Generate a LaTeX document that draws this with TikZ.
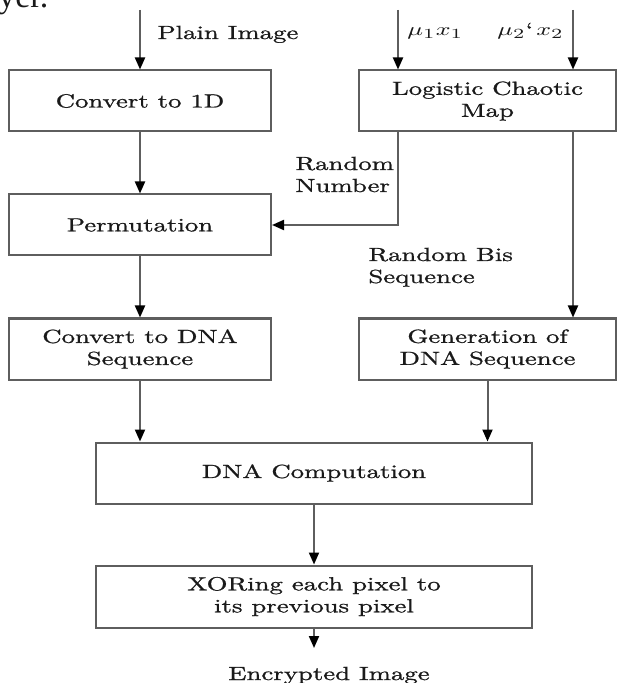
\documentclass[tikz,border=0pt]{standalone}
\usepackage{fontspec}
\setmainfont{lmroman10-regular}[Extension=.otf,FakeStretch=1.41,FakeBold=1]
\newfontfamily\pagefont{Liberation Serif}
\usepackage{graphicx}
\usepackage{xcolor}
\definecolor{cLine}{HTML}{5E5E5E}
\definecolor{cText}{HTML}{1A1A1A}
\usepackage{tikz}
\usetikzlibrary{positioning,arrows.meta}
\newcommand{\wmath}[1]{\scalebox{1.41}[1]{$#1$}}
\tikzset{
  node-box/.style={draw=cLine,line width=1pt,minimum width=131pt,
    minimum height=30.5pt,align=center,inner sep=0pt,text=cText},
  node-lbl/.style={text=cText,inner sep=0pt,align=left},
  arrow/.style={-{Triangle[length=6pt,width=5pt,color=black]},
    line width=1pt,draw=cLine},
}
\begin{document}
\begin{tikzpicture}[x=0.5pt,y=-0.5pt,node distance=30.5pt and 43pt,
    font=\fontsize{9.5}{11}\selectfont]
  \useasboundingbox (0,0) rectangle (616,683);
  \node[node-lbl,anchor=base west,font=\pagefont\fontsize{17}{20}\selectfont]
    (pagetxt) at (-2,8) {yer.};
  % left column
  \node[node-box] (conv1d) at (140,101) {Convert to 1D};
  \node[node-box,below=of conv1d] (perm) {Permutation};
  \node[node-box,below=of perm] (convdna) {Convert to DNA\\Sequence};
  % right column
  \node[node-box,right=of conv1d,minimum width=128.5pt] (logistic)
    {Logistic Chaotic\\Map};
  \node[node-box,minimum width=128.5pt] (gendna) at (logistic |- convdna)
    {Generation of\\DNA Sequence};
  % bottom
  \node[node-box,below=of convdna,xshift=87pt,minimum width=218pt] (dnacomp)
    {DNA Computation};
  \node[node-box,below=30pt of dnacomp,minimum width=218pt,
    minimum height=31pt] (xorpix) {XORing each pixel to\\its previous pixel};
  % inputs
  \coordinate (plainin) at (140,10);
  \coordinate (muin1) at (398,10);
  \coordinate (muin2) at (573,10);
  \coordinate (out) at (314,648);
  \node[node-lbl,anchor=base west] (plainlbl) at (157,39) {Plain Image};
  \node[node-lbl,anchor=base west] (mulbl1) at (407,36) {\wmath{\mu_1x_1}};
  \node[node-lbl,anchor=base west] (mulbl2) at (497,36)
    {\wmath{\mu_2}\textquoteleft\,\wmath{x_2}};
  \node[node-lbl,anchor=base west] (rndnum) at (295,192) {Random\\Number};
  \node[node-lbl,anchor=base west] (rndbis) at (368,283) {Random Bis\\Sequence};
  \node[node-lbl,anchor=base] (encimg) at (329,680) {Encrypted Image};
  \draw[arrow] (plainin) -- (conv1d);
  \draw[arrow] (muin1) -- (muin1 |- logistic.north);
  \draw[arrow] (muin2) -- (muin2 |- logistic.north);
  \draw[arrow] (conv1d) -- (perm);
  \draw[arrow] (perm) -- (convdna);
  \draw[arrow] (muin1 |- logistic.south) |- (perm.east);
  \draw[arrow] (muin2 |- logistic.south) -- (muin2 |- gendna.north);
  \draw[arrow] (convdna) -- (convdna |- dnacomp.north);
  \draw[arrow] (gendna) -- (gendna |- dnacomp.north);
  \draw[arrow] (dnacomp) -- (xorpix);
  \draw[arrow] (xorpix.south) -- (out);
\end{tikzpicture}
\end{document}
